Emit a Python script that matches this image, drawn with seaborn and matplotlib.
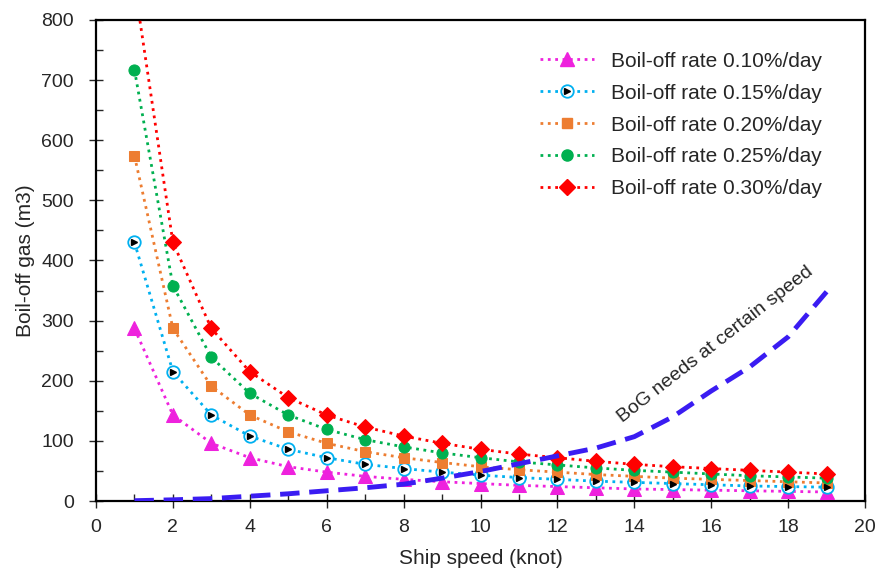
import matplotlib

matplotlib.use("Agg")
import matplotlib.pyplot as plt
import pandas as pd
import seaborn as sns
from matplotlib.legend_handler import HandlerTuple
from matplotlib.lines import Line2D
from matplotlib.ticker import MultipleLocator

# ship speed (knot)
speed = list(range(1, 20))

# boil-off gas (m3) per boil-off rate
bog_010 = [287, 143, 96, 72, 57, 48, 41, 36, 32, 29, 26, 24, 22, 20, 19, 18, 17, 16, 15]
bog_015 = [430, 215, 143, 108, 86, 72, 61, 54, 48, 43, 39, 36, 33, 31, 29, 27, 25, 24, 23]
bog_020 = [574, 287, 191, 143, 115, 96, 82, 72, 64, 57, 52, 48, 44, 41, 38, 36, 34, 32, 30]
bog_025 = [717, 358, 239, 179, 143, 119, 102, 90, 80, 72, 65, 60, 55, 51, 48, 45, 42, 40, 38]
bog_030 = [860, 430, 287, 215, 172, 143, 123, 108, 96, 86, 78, 72, 66, 61, 57, 54, 51, 48, 45]

# gas needed at a given speed
bog_needs = [0.5, 2, 4, 8, 12, 17, 22, 28, 38, 49, 62, 75, 88, 107, 140, 183, 223, 273, 348]

series_labels = [
    "Boil-off rate 0.10%/day",
    "Boil-off rate 0.15%/day",
    "Boil-off rate 0.20%/day",
    "Boil-off rate 0.25%/day",
    "Boil-off rate 0.30%/day",
]

sns.set_style("ticks")
plt.rcParams["font.family"] = ["Liberation Sans", "DejaVu Sans"]

df = pd.DataFrame(
    {
        "speed": speed * 5,
        "gas": bog_010 + bog_015 + bog_020 + bog_025 + bog_030,
        "rate": [lab for lab in series_labels for _ in speed],
    }
)

colors = ["#EE22DD", "#00B0F0", "#ED7D31", "#00B050", "#FF0000"]
markers = ["^", "o", "s", "o", "D"]
sizes = [9.5, 9, 7.5, 8, 8]

fig, ax = plt.subplots(figsize=(8.76, 5.69), dpi=100)
fig.subplots_adjust(left=0.1096, right=0.9875, bottom=0.1195, top=0.9649)

handles = []
for lab, col, mk, ms in zip(series_labels, colors, markers, sizes):
    sub = df[df["rate"] == lab]
    if lab.endswith("0.15%/day"):
        style = dict(color=col, linestyle=":", linewidth=2, marker="o", markersize=ms,
                     markerfacecolor="white", markeredgecolor=col, markeredgewidth=1.3)
        sns.lineplot(data=sub, x="speed", y="gas", ax=ax, zorder=3, **style)
        inner = dict(linestyle="none", marker=">", markersize=5, color="black")
        ax.plot(sub["speed"], sub["gas"], zorder=4, **inner)
        handles.append((Line2D([], [], **style), Line2D([], [], **inner)))
    else:
        style = dict(color=col, linestyle=":", linewidth=2, marker=mk, markersize=ms,
                     markeredgecolor=col)
        sns.lineplot(data=sub, x="speed", y="gas", ax=ax, zorder=3, **style)
        handles.append(Line2D([], [], **style))

sns.lineplot(x=speed, y=bog_needs, ax=ax, color="#3A1CF2", linestyle=(0, (4, 2)),
             linewidth=3.5, zorder=5)

ax.text(16.1, 260, "BoG needs at certain speed", rotation=38, fontsize=14,
        ha="center", va="center")

ax.set_xlim(0, 20)
ax.set_ylim(0, 800)
ax.xaxis.set_major_locator(MultipleLocator(2))
ax.xaxis.set_minor_locator(MultipleLocator(1))
ax.yaxis.set_major_locator(MultipleLocator(100))
ax.yaxis.set_minor_locator(MultipleLocator(50))
ax.tick_params(which="major", direction="inout", length=10, width=1, labelsize=14)
ax.tick_params(axis="y", which="major", pad=11)
ax.tick_params(axis="x", which="major", pad=8)
ax.tick_params(which="minor", direction="in", length=5, width=1)
for sp in ax.spines.values():
    sp.set_linewidth(1.6)
    sp.set_color("black")

ax.set_xlabel("Ship speed (knot)", fontsize=15, labelpad=9)
ax.set_ylabel("Boil-off gas (m3)", fontsize=15, labelpad=4)

ax.legend(handles, series_labels, loc="upper right", frameon=False, fontsize=15,
          handlelength=2.6, labelspacing=0.62, bbox_to_anchor=(0.968, 0.973),
          handler_map={tuple: HandlerTuple(ndivide=1, pad=0)})

fig.savefig("out.png", dpi=100)
